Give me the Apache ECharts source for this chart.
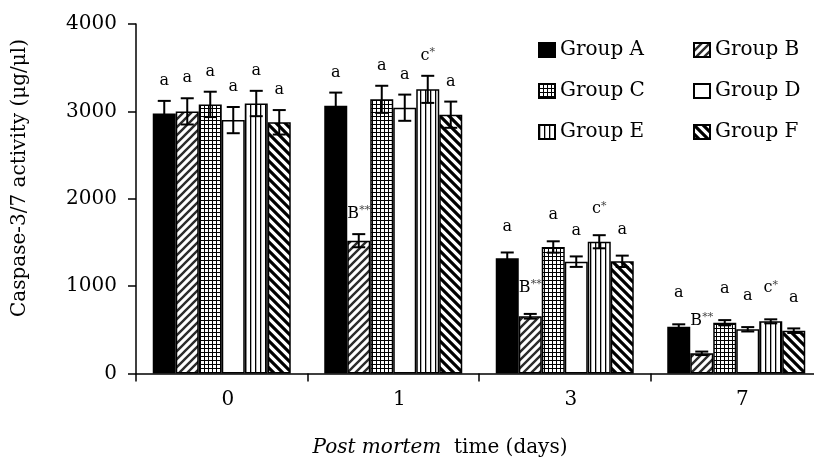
<!DOCTYPE html>
<html><head><meta charset="utf-8">
<script src="https://cdn.jsdelivr.net/npm/echarts@6/dist/echarts.min.js"></script>
<style>html,body{margin:0;padding:0;background:#fff;overflow:hidden;width:814px;height:457px}#c{width:830px;height:457px}</style>
</head><body><div id="c"></div>
<script>
// ---- data ----
const categories = ['0', '1', '3', '7'];
const seriesNames = ['Group A', 'Group B', 'Group C', 'Group D', 'Group E', 'Group F'];
const groupA = [2975, 3065, 1320, 536];
const groupB = [3000, 1520, 655, 231];
const groupC = [3080, 3138, 1448, 581];
const groupD = [2900, 3042, 1280, 506];
const groupE = [3090, 3252, 1508, 597];
const groupF = [2875, 2962, 1284, 490];
const errA = [145, 150, 65, 27];
const errB = [150, 75, 27, 20];
const errC = [145, 155, 65, 30];
const errD = [150, 150, 60, 25];
const errE = [145, 155, 75, 23];
const errF = [140, 150, 65, 26];
const labelsA = ['a', 'a', 'a', 'a'];
const labelsB = ['a', 'B**', 'B**', 'B**'];
const labelsC = ['a', 'a', 'a', 'a'];
const labelsD = ['a', 'a', 'a', 'a'];
const labelsE = ['a', 'c*', 'c*', 'c*'];
const labelsF = ['a', 'a', 'a', 'a'];
const yMin = 0, yMax = 4000, yInterval = 1000;
const yTitle = 'Caspase-3/7 activity (μg/μl)';

// ---- styling ----
const FONT = 'DejaVu Serif';
const barW = 23;
const labelGap = [20, 20, 26, 31];

function pattern(kind) {
  const c = document.createElement('canvas');
  let s;
  if (kind === 'fwd') {
    s = 8; c.width = s; c.height = s;
    const ctx = c.getContext('2d');
    ctx.fillStyle = '#fff'; ctx.fillRect(0, 0, s, s);
    ctx.strokeStyle = '#2b2b2b'; ctx.lineWidth = 2.4;
    ctx.beginPath();
    ctx.moveTo(-2, s + 2); ctx.lineTo(s + 2, -2);
    ctx.moveTo(-2, 2); ctx.lineTo(2, -2);
    ctx.moveTo(s - 2, s + 2); ctx.lineTo(s + 2, s - 2);
    ctx.stroke();
  } else if (kind === 'back') {
    s = 9; c.width = s; c.height = s;
    const ctx = c.getContext('2d');
    ctx.fillStyle = '#fff'; ctx.fillRect(0, 0, s, s);
    ctx.strokeStyle = '#000'; ctx.lineWidth = 3.2;
    ctx.beginPath();
    ctx.moveTo(-2, -2); ctx.lineTo(s + 2, s + 2);
    ctx.moveTo(s - 2, -2); ctx.lineTo(s + 2, 2);
    ctx.moveTo(-2, s - 2); ctx.lineTo(2, s + 2);
    ctx.stroke();
  } else if (kind === 'grid') {
    s = 4; c.width = s; c.height = s;
    const ctx = c.getContext('2d');
    ctx.fillStyle = '#fff'; ctx.fillRect(0, 0, s, s);
    ctx.fillStyle = '#000';
    ctx.fillRect(0, 0, 1, s); ctx.fillRect(0, 0, s, 1);
  } else if (kind === 'vert') {
    s = 5; c.width = s; c.height = 4;
    const ctx = c.getContext('2d');
    ctx.fillStyle = '#fff'; ctx.fillRect(0, 0, s, 4);
    ctx.fillStyle = '#000'; ctx.fillRect(0, 0, 1.3, 4);
  }
  return { image: c, repeat: 'repeat' };
}

const fills = ['#000', pattern('fwd'), pattern('grid'), '#fff', pattern('vert'), pattern('back')];
const values = [groupA, groupB, groupC, groupD, groupE, groupF];
const errs = [errA, errB, errC, errD, errE, errF];
const labels = [labelsA, labelsB, labelsC, labelsD, labelsE, labelsF];

function richLabel(t) {
  if (t.indexOf('*') >= 0) {
    const base = t.replace(/\*/g, '');
    const stars = t.slice(base.length);
    return '{b|' + base + '}{s|' + stars + '}';
  }
  return '{b|' + t + '}';
}

const barSeries = seriesNames.map((n, i) => ({
  name: n, type: 'bar', data: values[i], barWidth: barW, barGap: '0%',
  itemStyle: { color: fills[i], borderColor: '#000', borderWidth: 1.5 },
  emphasis: { disabled: true }, z: 2
}));

const errSeries = seriesNames.map((n, idx) => ({
  type: 'custom', z: 5, silent: true, clip: false,
  data: values[idx].map((v, i) => [i, v, errs[idx][i]]),
  renderItem(params, api) {
    const ci = api.value(0), v = api.value(1), e = api.value(2);
    const c0 = api.coord([ci, v]);
    const x = c0[0] + (idx - 2.5) * barW;
    const top = api.coord([ci, v + e])[1];
    const bot = api.coord([ci, v - e])[1];
    const cap = 6.5;
    const ls = { stroke: '#000', lineWidth: 2 };
    return {
      type: 'group', children: [
        { type: 'line', shape: { x1: x, y1: top, x2: x, y2: bot }, style: ls },
        { type: 'line', shape: { x1: x - cap, y1: top, x2: x + cap, y2: top }, style: ls },
        { type: 'line', shape: { x1: x - cap, y1: bot, x2: x + cap, y2: bot }, style: ls },
        { type: 'text', style: {
            text: richLabel(labels[idx][params.dataIndex]), x: x, y: top - labelGap[ci],
            align: 'center', verticalAlign: 'middle',
            rich: {
              b: { fontFamily: FONT, fontSize: 16, fill: '#000', lineHeight: 18 },
              s: { fontFamily: FONT, fontSize: 11, fill: '#444', verticalAlign: 'top', lineHeight: 18 }
            }
          } }
      ]
    };
  }
}));

const chart = echarts.init(document.getElementById('c'), null, { renderer: 'canvas' });
chart.setOption({
  animation: false,
  backgroundColor: '#fff',
  grid: { left: 136, top: 24, right: 8, bottom: 83.5, containLabel: false },
  legend: [
    { data: ['Group A', 'Group C', 'Group E'], orient: 'vertical', left: 533, top: 34,
      itemWidth: 16, itemHeight: 14, itemGap: 19, icon: 'rect',
      textStyle: { fontFamily: FONT, fontSize: 20, color: '#000', lineHeight: 22 } },
    { data: ['Group B', 'Group D', 'Group F'], orient: 'vertical', left: 688, top: 34,
      itemWidth: 16, itemHeight: 14, itemGap: 19, icon: 'rect',
      textStyle: { fontFamily: FONT, fontSize: 20, color: '#000', lineHeight: 22 } }
  ],
  xAxis: {
    type: 'category', data: categories,
    axisLine: { lineStyle: { color: '#000', width: 1.5 } },
    axisTick: { show: true, inside: false, length: 8, lineStyle: { color: '#000', width: 1.5 } },
    axisLabel: { color: '#000', fontFamily: FONT, fontSize: 20, margin: 16, padding: [0, 0, 0, 12] },
    splitLine: { show: false }
  },
  yAxis: {
    type: 'value', min: yMin, max: yMax, interval: yInterval,
    axisLine: { show: true, lineStyle: { color: '#000', width: 1.5 } },
    axisTick: { show: true, inside: false, length: 8, lineStyle: { color: '#000', width: 1.5 } },
    axisLabel: { color: '#000', fontFamily: FONT, fontSize: 20, margin: 19, formatter: v => String(v) },
    splitLine: { show: false }
  },
  graphic: [
    { type: 'text', x: 20, y: 178, rotation: Math.PI / 2,
      style: { text: yTitle, align: 'center', verticalAlign: 'middle', fontFamily: FONT, fontSize: 20, fill: '#000' } },
    { type: 'text', x: 440, y: 448,
      style: { text: '{i|Post mortem}{n|  time (days)}', align: 'center', verticalAlign: 'middle',
        rich: { i: { fontFamily: FONT, fontStyle: 'italic', fontSize: 20, fill: '#000' },
                n: { fontFamily: FONT, fontSize: 20, fill: '#000' } } } }
  ],
  series: barSeries.concat(errSeries)
});
</script></body></html>
